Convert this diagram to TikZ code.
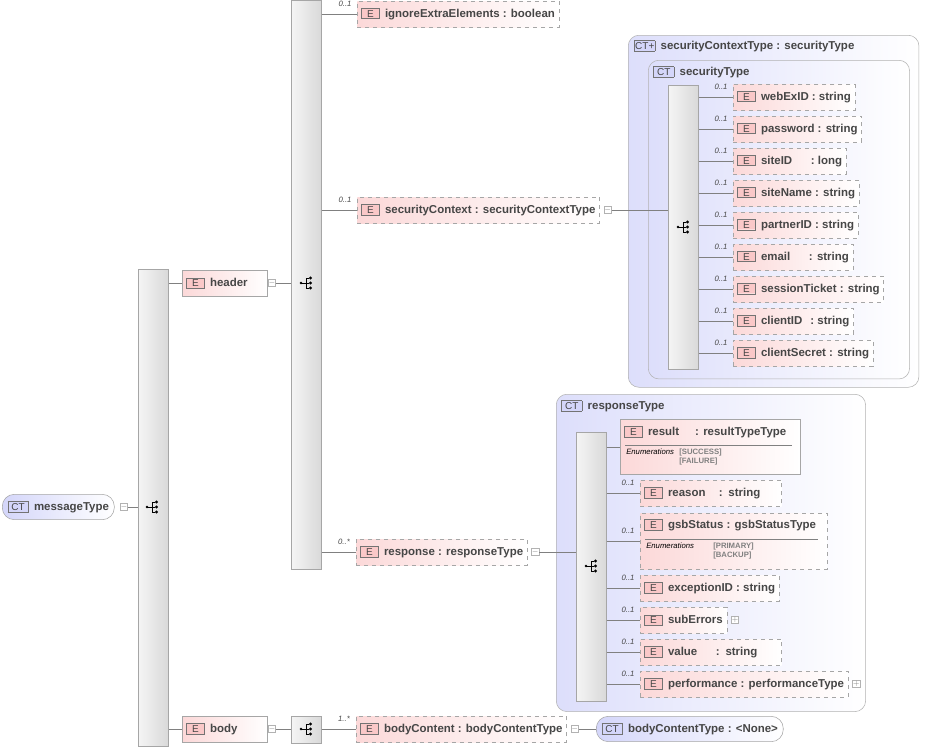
\documentclass[tikz,border=0pt]{standalone}
\usepackage{fontspec}
\setmainfont{Liberation Sans}
\usetikzlibrary{positioning}
\definecolor{ctblue}{RGB}{212,214,250}
\definecolor{epink}{RGB}{250,200,200}
\definecolor{lbl}{RGB}{70,70,70}
\newcommand\badge{{\setlength\fboxsep{1pt}\fcolorbox{gray!90!black}{epink}{\makebox[11pt]{\normalfont\fontsize{7.5}{8}\selectfont E}}}\hspace{4pt}}
\newcommand\ctbadge[1]{{\setlength\fboxsep{1pt}\fcolorbox{gray!90!black}{ctblue}{\makebox[13pt]{\normalfont\fontsize{7.5}{8}\selectfont #1}}}\hspace{4pt}}

\begin{document}
\begin{tikzpicture}[x=0.75pt,y=-0.75pt,
    elem/.style={draw=gray!70,left color=epink!70,right color=white,anchor=west,
                 minimum height=19.5pt,inner sep=3pt,font=\fontsize{8.6}{10}\selectfont\bfseries,text=lbl},
    opt/.style={elem,dashed},
    ctnode/.style={draw=gray!70,rounded corners=9pt,left color=ctblue,right color=white,anchor=west,
                 minimum height=19pt,inner sep=4pt,font=\fontsize{8.6}{10}\selectfont\bfseries,text=lbl},
    title/.style={anchor=west,font=\fontsize{8.6}{10}\selectfont\bfseries,text=lbl,inner sep=3pt},
    panel/.style={draw=gray!60,rounded corners=8pt,left color=ctblue!80,right color=white,anchor=north west},
    bar/.style={draw=gray!70,left color=gray!8,right color=gray!30,anchor=north west,minimum width=22.5pt},
    tog/.style={draw=gray!60,fill=white,minimum size=5.5pt,inner sep=0pt,font=\fontsize{5}{5}\selectfont,text=gray},
    card/.style={font=\fontsize{5.8}{6}\selectfont\itshape,text=lbl},
    enum/.style={font=\fontsize{5.8}{6.8}\selectfont,anchor=north west,inner sep=0pt,align=left},
    seq/.pic={\fill (-5,0) circle (1.4); \draw (-5,0)--(0,0) (0,-5)--(0,5)
              (0,-5)--(3,-5) (0,0)--(3,0) (0,5)--(3,5);
              \fill (4.5,-5) circle (1.6) (4.5,0) circle (1.6) (4.5,5) circle (1.6);}]
  \useasboundingbox (0,0) rectangle (925,751);

  % panels of the complex types
  \node[panel,minimum width=218pt,minimum height=264pt] (pSCT) at (628,35) {};
  \node[title] at (630,46) {\ctbadge{CT+}securityContextType : securityType};
  \node[panel,minimum width=196pt,minimum height=239pt] (pST) at (648,60) {};
  \node[title] at (649,72) {\ctbadge{CT}securityType};
  \node[panel,minimum width=232pt,minimum height=238pt] (pRT) at (556,394) {};
  \node[title] at (557,406) {\ctbadge{CT}responseType};

  % sequence bars
  \node[bar,minimum height=358pt] (seqA) at (138,269) {};
  \node[bar,minimum height=427pt] (seqB) at (291,0) {};
  \node[bar,minimum height=20pt] (seqC) at (291,716) {};
  \node[bar,minimum height=213pt] (seqD) at (668,85) {};
  \node[bar,minimum height=202pt] (seqE) at (576,432) {};
  \pic at (152,507) {seq};
  \pic at (306,283) {seq};
  \pic at (306,729) {seq};
  \pic at (683,227) {seq};
  \pic at (591,566) {seq};

  % root
  \node[ctnode] (msg) at (2,507) {\ctbadge{CT}messageType};
  \node[tog,right=4pt of msg] (tgMsg) {$-$};
  \draw[gray] (tgMsg) -- (seqA.west |- tgMsg);

  % header branch
  \node[elem,text width=58pt] (hdr) at (182,283) {\badge header};
  \node[tog] (tgHdr) at (272,283) {$-$};
  \draw[gray] (seqA.east |- hdr) -- (hdr) (tgHdr) -- (seqB.west |- tgHdr);

  \node[opt] (ign) at (357,14) {\badge ignoreExtraElements : boolean};
  \node[opt] (sec) at (357,210) {\badge securityContext : securityContextType};
  \node[opt] (resp) at (356,552) {\badge response : responseType};
  \node[tog,right=3pt of sec] (tgSec) {$-$};
  \node[tog,right=3pt of resp] (tgResp) {$-$};
  \node[card] at (345,4) {0..1};
  \node[card] at (345,200) {0..1};
  \node[card] at (344,542) {0..*};
  \draw[gray] (seqB.east |- ign) -- (ign) (seqB.east |- sec) -- (sec) (seqB.east |- resp) -- (resp);
  \draw[gray] (tgSec) -- (seqD.west |- tgSec) (tgResp) -- (seqE.west |- tgResp);

  % body branch
  \node[elem,text width=58pt] (bdy) at (182,729) {\badge body};
  \node[tog] (tgBdy) at (272,729) {$-$};
  \draw[gray] (seqA.east |- bdy) -- (bdy) (tgBdy) -- (seqC.west |- tgBdy);
  \node[opt] (bc) at (356,729) {\badge bodyContent : bodyContentType};
  \node[card] at (344,719) {1..*};
  \node[tog,right=3pt of bc] (tgBc) {$-$};
  \node[ctnode] (bct) at (596,729) {\ctbadge{CT}bodyContentType : <None>};
  \draw[gray] (seqC.east |- bc) -- (bc) (tgBc) -- (bct);

  % securityType children
  \foreach \nm/\txt [count=\i from 0] in {web/webExID : string,pw/password : string,
      site/siteID\hspace{14pt}: long,sname/siteName : string,part/partnerID : string,
      mail/email\hspace{14pt}: string,sess/sessionTicket : string,cid/clientID\hspace{6pt}: string,
      csec/clientSecret : string}{
    \node[opt] (\nm) at (733,97+32*\i) {\badge \txt};
    \node[card] at (721,87+32*\i) {0..1};
    \draw[gray] (seqD.east |- \nm) -- (\nm);
  }

  % responseType children
  \node[elem,minimum width=135pt,minimum height=41pt] (res) at (620,447) {};
  \node[title] at (620,432) {\badge result\hspace{12pt}: resultTypeType};
  \draw[gray] (625,445) -- (792,445);
  \node[enum] at (626,449) {\itshape Enumerations};
  \node[enum,text=gray] at (679,449) {\textbf{[SUCCESS]}\\\textbf{[FAILURE]}};
  \draw[gray] (seqE.east |- res) -- (res);

  \node[opt,text width=100pt] (rsn) at (640,493) {\badge reason\hspace{10pt}: string};
  \node[card] at (628,483) {0..1};
  \draw[gray] (seqE.east |- rsn) -- (rsn);

  \node[opt,minimum width=140pt,minimum height=42pt] (gsb) at (640,541) {};
  \node[title] at (640,525) {\badge gsbStatus : gsbStatusType};
  \draw[gray] (645,539) -- (818,539);
  \node[enum] at (646,543) {\itshape Enumerations};
  \node[enum,text=gray] at (713,543) {\textbf{[PRIMARY]}\\\textbf{[BACKUP]}};
  \node[card] at (628,531) {0..1};
  \draw[gray] (seqE.east |- gsb) -- (gsb);

  \node[opt] (exc) at (640,588) {\badge exceptionID : string};
  \node[card] at (628,578) {0..1};
  \node[opt] (sub) at (640,620) {\badge subErrors};
  \node[tog,right=3pt of sub] {$+$};
  \node[card] at (628,610) {0..1};
  \node[opt,text width=100pt] (val) at (640,652) {\badge value\hspace{14pt}: string};
  \node[card] at (628,642) {0..1};
  \node[opt] (perf) at (640,684) {\badge performance : performanceType};
  \node[tog,right=3pt of perf] {$+$};
  \node[card] at (628,674) {0..1};
  \draw[gray] (seqE.east |- exc) -- (exc) (seqE.east |- sub) -- (sub)
    (seqE.east |- val) -- (val) (seqE.east |- perf) -- (perf);
\end{tikzpicture}
\end{document}
